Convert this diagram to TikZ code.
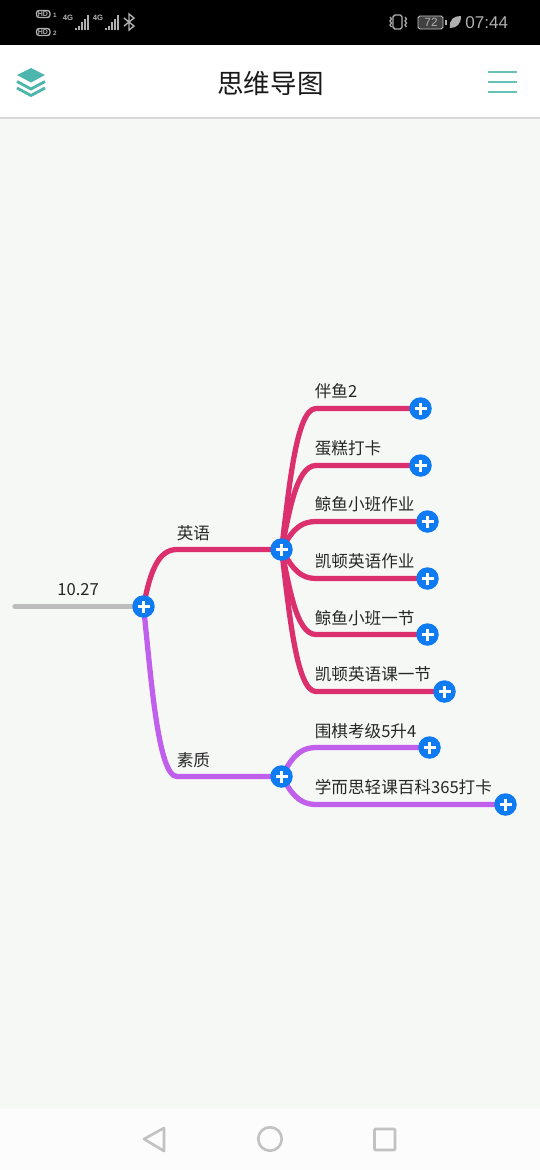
\documentclass[tikz,border=0pt]{standalone}
\usepackage{fontspec}
\setmainfont{Noto Sans CJK SC}
\newfontfamily\statusfont{Liberation Sans}
\usepackage{xcolor}
\usetikzlibrary{backgrounds}
\definecolor{mapred}{HTML}{DC2F6E}
\definecolor{mappurple}{HTML}{BF5FEC}
\definecolor{mapblue}{HTML}{0F7BF2}
\definecolor{mapgray}{HTML}{BDBDBD}
\definecolor{mapback}{HTML}{F6F8F6}
\definecolor{mapteal}{HTML}{4DB6AC}
\definecolor{navgray}{HTML}{C2C2C2}
\definecolor{statgray}{HTML}{B0B0B0}
\tikzset{
  plusnode/.style={circle,fill=mapblue,minimum size=0.45cm,inner sep=0pt,
    path picture={\draw[white,line width=2.1pt]
      ([xshift=-0.12cm]path picture bounding box.center) -- ([xshift=0.12cm]path picture bounding box.center)
      ([yshift=-0.12cm]path picture bounding box.center) -- ([yshift=0.12cm]path picture bounding box.center);}},
  maplabel/.style={anchor=west,inner sep=0pt,font=\fontsize{9.45pt}{11pt}\selectfont,text=black!85},
  redline/.style={mapred,line width=3pt,line cap=round},
  purpleline/.style={mappurple,line width=3pt,line cap=round},
  navicon/.style={navgray,line width=1.5pt,line join=round},
  statustext/.style={inner sep=0pt,text=statgray},
}
\begin{document}
\begin{tikzpicture}[x=0.02cm,y=-0.02cm]
  \useasboundingbox (0,0) rectangle (540,1170);
  % screen areas
  \begin{scope}[on background layer]
  \fill[mapback] (0,0) rectangle (540,1170);
  \fill[black] (0,0) rectangle (540,45);
  \fill[white] (0,45) rectangle (540,117);
  \fill[black!15] (0,117) rectangle (540,119);
  \fill[black!1] (0,1109) rectangle (540,1170);
  \end{scope}

  % status bar
  \draw[statgray,line width=0.8pt,rounded corners=1.5pt] (36.5,10.5) rectangle (50,17.5);
  \draw[statgray,line width=0.8pt,rounded corners=1.5pt] (36.5,28.5) rectangle (50,35.5);
  \node[statustext,font=\statusfont\bfseries\fontsize{4pt}{4pt}\selectfont] (hdone) at (43,14) {HD};
  \node[statustext,font=\statusfont\bfseries\fontsize{4pt}{4pt}\selectfont] (hdtwo) at (43,32) {HD};
  \node[statustext,font=\statusfont\bfseries\fontsize{3.6pt}{4pt}\selectfont] (simone) at (55,15) {1};
  \node[statustext,font=\statusfont\bfseries\fontsize{3.6pt}{4pt}\selectfont] (simtwo) at (55,33) {2};
  \node[statustext,font=\statusfont\bfseries\fontsize{4.4pt}{5pt}\selectfont] (netone) at (68,18) {4G};
  \node[statustext,font=\statusfont\bfseries\fontsize{4.4pt}{5pt}\selectfont] (nettwo) at (98,18) {4G};
  \foreach \x/\h in {76/2,79/4,82/8,85/11,88/15,106/2,109/4,112/8,115/11,118/15}
    \fill[statgray] (\x-0.9,29.5) rectangle (\x+0.9,29.5-\h);
  \draw[statgray,line width=0.8pt] (124,18) -- (134,26) -- (129,30) -- (129,14) -- (134,18) -- (124,26);
  \draw[statgray,line width=0.8pt,rounded corners=1pt] (393,15) rectangle (402,29);
  \draw[statgray,line width=0.7pt] (390,17) -- (391.5,19) -- (390,21) -- (391.5,23) -- (390,25) -- (391.5,27);
  \draw[statgray,line width=0.7pt] (405,17) -- (406.5,19) -- (405,21) -- (406.5,23) -- (405,25) -- (406.5,27);
  \draw[statgray!70,fill=black!75,line width=0.5pt,rounded corners=1pt] (418,16) rectangle (443,29);
  \fill[statgray] (445,20) rectangle (446.5,25);
  \node[statustext,font=\statusfont\fontsize{6.8pt}{7pt}\selectfont] (battery) at (431,22.5) {72};
  \fill[statgray] (450,28) .. controls (449,19) and (454,16) .. (461,16) .. controls (461,24) and (457,28) .. (450,28);
  \node[statustext,anchor=west,font=\statusfont\fontsize{9.7pt}{11pt}\selectfont] (clock) at (465,23) {07:44};

  % header
  \node[inner sep=0pt,font=\fontsize{15.1pt}{16pt}\selectfont,text=black!90] (title) at (270.5,83) {思维导图};
  \fill[mapteal] (17,75) -- (31,68) -- (45,75) -- (31,82.5) -- cycle;
  \draw[mapteal,line width=1.6pt] (17,81.5) -- (31,89) -- (45,81.5);
  \draw[mapteal,line width=1.6pt] (17,88) -- (31,95.5) -- (45,88);
  \draw[mapteal!85!white,line width=1.3pt] (488,72) -- (517,72);
  \draw[mapteal!85!white,line width=1.3pt] (488,82) -- (517,82);
  \draw[mapteal!85!white,line width=1.3pt] (488,92) -- (517,92);

  % mind map nodes
  \coordinate (start) at (15,606.5);
  \node[plusnode] (root) at (143.5,606.5) {};
  \node[plusnode] (english) at (281.5,549.5) {};
  \node[plusnode] (quality) at (281.5,776.5) {};
  \node[plusnode] (banyu) at (420.5,408.5) {};
  \node[plusnode] (dangao) at (420.5,465.5) {};
  \node[plusnode] (jingyuhw) at (427.5,521.5) {};
  \node[plusnode] (kaidunhw) at (427.5,578.5) {};
  \node[plusnode] (jingyucl) at (427.5,634.5) {};
  \node[plusnode] (kaiduncl) at (444.5,691.5) {};
  \node[plusnode] (weiqi) at (429.5,747.5) {};
  \node[plusnode] (xueersi) at (505.5,804.5) {};

  % connectors
  \begin{scope}[on background layer]
  \draw[mapgray,line width=3pt,line cap=round] (start) -- (root.center);
  \draw[redline] (root.center) .. controls (150,572) and (158,549.5) .. (177,549.5) -- (english.center);
  \draw[redline] (english.center) .. controls (289,490) and (296,408.5) .. (316,408.5) -- (banyu.center);
  \draw[redline] (english.center) .. controls (289,514) and (296,465.5) .. (316,465.5) -- (dangao.center);
  \draw[redline] (english.center) .. controls (289,537) and (296,521.5) .. (316,521.5) -- (jingyuhw.center);
  \draw[redline] (english.center) .. controls (289,561) and (296,578.5) .. (316,578.5) -- (kaidunhw.center);
  \draw[redline] (english.center) .. controls (289,585) and (296,634.5) .. (316,634.5) -- (jingyucl.center);
  \draw[redline] (english.center) .. controls (289,609) and (296,691.5) .. (316,691.5) -- (kaiduncl.center);
  \draw[purpleline] (root.center) .. controls (151,677) and (158,776.5) .. (177,776.5) -- (quality.center);
  \draw[purpleline] (quality.center) .. controls (289,764) and (296,747.5) .. (316,747.5) -- (weiqi.center);
  \draw[purpleline] (quality.center) .. controls (289,788) and (296,804.5) .. (316,804.5) -- (xueersi.center);
  \end{scope}

  % labels
  \node[maplabel] (rootlabel) at (57,590) {10.27};
  \node[maplabel] (englishlabel) at (176.5,533) {英语};
  \node[maplabel] (qualitylabel) at (176.5,760) {素质};
  \node[maplabel] (banyulabel) at (314.5,391) {伴鱼2};
  \node[maplabel] (dangaolabel) at (314.5,448) {蛋糕打卡};
  \node[maplabel] (jingyuhwlabel) at (314.5,504) {鲸鱼小班作业};
  \node[maplabel] (kaidunhwlabel) at (314.5,561) {凯顿英语作业};
  \node[maplabel] (jingyucllabel) at (314.5,618) {鲸鱼小班一节};
  \node[maplabel] (kaiduncllabel) at (314.5,674) {凯顿英语课一节};
  \node[maplabel] (weiqilabel) at (314.5,731) {围棋考级5升4};
  \node[maplabel] (xueersilabel) at (314.5,787) {学而思轻课百科365打卡};

  % navigation bar
  \draw[navicon] (144,1139) -- (164,1128) -- (164,1151) -- cycle;
  \draw[navicon] (270,1139) circle[radius=0.235cm];
  \draw[navicon,rounded corners=0.5pt] (374.5,1129) rectangle (395,1150);
\end{tikzpicture}
\end{document}
